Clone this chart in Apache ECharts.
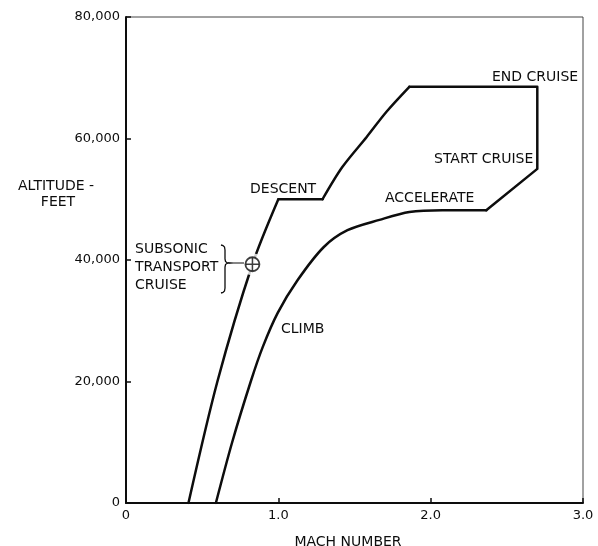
<!DOCTYPE html>
<html>
<head>
<meta charset="utf-8">
<script src="https://cdn.jsdelivr.net/npm/echarts@6/dist/echarts.min.js"></script>
<style>
  html, body { margin: 0; padding: 0; background: #fff; }
  #chart { width: 598px; height: 546px; }
</style>
</head>
<body>
<div id="chart"></div>
<script>
// Flight profile of a supersonic transport: altitude (ft) against Mach number.

// Climb and acceleration to the start of cruise
const climbMach = [0.59, 0.697, 0.819, 0.898, 0.996, 1.127, 1.297, 1.454, 1.664, 1.86, 2.076, 2.365];
const climbAlt  = [0, 10000, 20000, 25700, 31300, 36700, 42100, 44900, 46600, 47900, 48200, 48200];

// Cruise-climb at constant Mach, then deceleration at altitude
const cruiseMach = [2.365, 2.70, 2.70, 1.86];
const cruiseAlt  = [48200, 55000, 68500, 68500];

// Descent, upper curved part
const descentUpperMach = [1.86, 1.71, 1.58, 1.42, 1.29];
const descentUpperAlt  = [68500, 64400, 60250, 55300, 50000];

// Level segment during descent
const levelMach = [1.29, 1.00];
const levelAlt  = [50000, 50000];

// Final let-down
const letdownMach = [1.00, 0.83, 0.60, 0.41];
const letdownAlt  = [50000, 39300, 20000, 0];

// Subsonic transport cruise point
const subsonicMach = [0.83];
const subsonicAlt  = [39300];

// Axis ticks
const machTicks = [0, 1.0, 2.0, 3.0];
const altTicks  = [0, 20000, 40000, 60000, 80000];

const pairs = (xs, ys) => xs.map((x, i) => [x, ys[i]]);

const INK = '#0d0d0d';
const FONT = 'DejaVu Sans';

const chart = echarts.init(document.getElementById('chart'), null, { renderer: 'canvas' });

const lineSeries = (data, smooth) => ({
  type: 'line',
  data,
  smooth,
  symbol: 'none',
  lineStyle: { color: INK, width: 2.5, join: 'round', cap: 'round' },
  z: 2,
  silent: true
});

const text = (x, y, s, align) => ({
  type: 'text',
  x, y,
  style: {
    text: s,
    font: '14px "' + FONT + '"',
    fill: INK,
    textAlign: align || 'left',
    textVerticalAlign: 'middle'
  },
  z: 10
});

chart.setOption({
  animation: false,
  backgroundColor: '#fff',
  grid: {
    left: 126, right: 15, top: 17, bottom: 43,
    show: true,
    borderColor: '#444',
    borderWidth: 1
  },
  xAxis: {
    type: 'value',
    min: machTicks[0],
    max: machTicks[machTicks.length - 1],
    interval: 1,
    axisLine: { show: true, onZero: false, lineStyle: { color: INK, width: 2 } },
    axisTick: { show: true, inside: true, length: 5, lineStyle: { color: INK, width: 1.5 } },
    splitLine: { show: false },
    axisLabel: {
      margin: 6,
      color: INK,
      fontFamily: FONT,
      fontSize: 13,
      formatter: v => (v === 0 ? '0' : v.toFixed(1))
    }
  },
  yAxis: {
    type: 'value',
    min: altTicks[0],
    max: altTicks[altTicks.length - 1],
    interval: 20000,
    axisLine: { show: true, onZero: false, lineStyle: { color: INK, width: 2 } },
    axisTick: { show: true, inside: true, length: 5, lineStyle: { color: INK, width: 1.5 } },
    splitLine: { show: false },
    axisLabel: {
      margin: 6,
      color: INK,
      fontFamily: FONT,
      fontSize: 13,
      formatter: v => v.toLocaleString('en-US')
    }
  },
  series: [
    lineSeries(pairs(climbMach, climbAlt), 0.3),
    lineSeries(pairs(cruiseMach, cruiseAlt), false),
    lineSeries(pairs(descentUpperMach, descentUpperAlt), 0.3),
    lineSeries(pairs(levelMach, levelAlt), false),
    lineSeries(pairs(letdownMach, letdownAlt), 0.3),
    {
      // white halo that opens a gap in the descent line around the marker
      type: 'scatter',
      data: pairs(subsonicMach, subsonicAlt),
      symbol: 'circle',
      symbolSize: 22,
      itemStyle: { color: '#fff' },
      z: 3,
      silent: true
    },
    {
      type: 'scatter',
      data: pairs(subsonicMach, subsonicAlt),
      symbol: 'circle',
      symbolSize: 14,
      itemStyle: { color: '#fff', borderColor: INK, borderWidth: 1.8 },
      z: 4,
      silent: true
    },
    {
      // cross inside the marker
      type: 'scatter',
      data: pairs(subsonicMach, subsonicAlt),
      symbol: 'path://M0,6.2 H14 V7.8 H0 Z M6.2,0 H7.8 V14 H6.2 Z',
      symbolSize: 13,
      itemStyle: { color: INK },
      z: 5,
      silent: true
    }
  ],
  graphic: [
    text(56, 186, 'ALTITUDE -', 'center'),
    text(58, 202, 'FEET', 'center'),
    text(348, 542, 'MACH NUMBER', 'center'),
    text(250, 189, 'DESCENT'),
    text(281, 329, 'CLIMB'),
    text(385, 198, 'ACCELERATE'),
    text(434, 159, 'START CRUISE'),
    text(492, 77, 'END CRUISE'),
    text(135, 249, 'SUBSONIC'),
    text(135, 267, 'TRANSPORT'),
    text(135, 285, 'CRUISE'),
    {
      // brace grouping the three label lines
      type: 'polyline',
      shape: {
        points: [[221, 245], [223, 245.5], [224.5, 247], [225, 250], [225, 259],
                 [225.5, 261.5], [227, 262.7], [229, 263], [227, 263.3], [225.5, 264.5],
                 [225, 267], [225, 288], [224.5, 291], [223, 292.5], [221, 293]]
      },
      style: { fill: null, stroke: INK, lineWidth: 1.3 },
      z: 10
    },
    {
      // leader from the brace to the marker
      type: 'line',
      shape: { x1: 229, y1: 263, x2: 244, y2: 263 },
      style: { stroke: INK, lineWidth: 1 },
      z: 10
    }
  ]
});
</script>
</body>
</html>
